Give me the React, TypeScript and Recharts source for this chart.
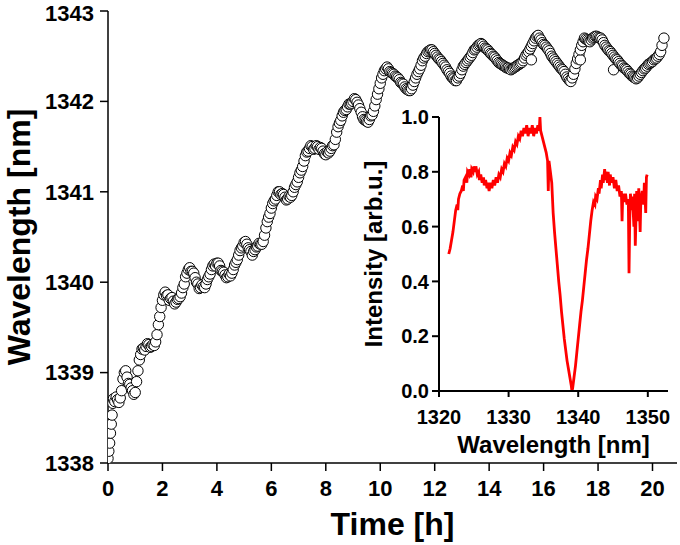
import { ScatterChart, Scatter, LineChart, Line, XAxis, YAxis, CartesianGrid, Label } from 'recharts';

// drift of the resonance wavelength over time: [time h, wavelength nm]
const driftPoints: [number, number][] = [
  [0.0, 1338.05], [0.03, 1338.13], [0.06, 1338.22], [0.09, 1338.33], [0.12, 1338.43], [0.15, 1338.53],
  [0.18, 1338.66], [0.2, 1338.71], [0.3, 1338.73], [0.4, 1338.67], [0.5, 1338.8], [0.6, 1339.0],
  [0.7, 1338.95], [0.8, 1338.87], [0.9, 1338.8], [1.0, 1338.78], [1.1, 1339.02], [1.2, 1339.2],
  [1.3, 1339.27], [1.4, 1339.29], [1.5, 1339.31], [1.6, 1339.29], [1.7, 1339.3], [1.8, 1339.42],
  [1.9, 1339.62], [2.0, 1339.8], [2.1, 1339.89], [2.2, 1339.86], [2.3, 1339.82], [2.4, 1339.79],
  [2.5, 1339.78], [2.6, 1339.82], [2.7, 1339.88], [2.8, 1339.98], [2.9, 1340.1], [3.0, 1340.16],
  [3.1, 1340.12], [3.2, 1340.05], [3.3, 1339.98], [3.4, 1339.94], [3.5, 1339.95], [3.6, 1339.98],
  [3.7, 1340.06], [3.8, 1340.14], [3.9, 1340.2], [4.0, 1340.21], [4.1, 1340.18], [4.2, 1340.12],
  [4.3, 1340.08], [4.4, 1340.06], [4.5, 1340.07], [4.6, 1340.14], [4.7, 1340.22], [4.8, 1340.3],
  [4.9, 1340.38], [5.0, 1340.44], [5.1, 1340.42], [5.2, 1340.36], [5.3, 1340.3], [5.4, 1340.36],
  [5.5, 1340.4], [5.6, 1340.42], [5.7, 1340.45], [5.8, 1340.6], [5.9, 1340.72], [6.0, 1340.82],
  [6.1, 1340.9], [6.2, 1340.96], [6.3, 1341.0], [6.4, 1340.98], [6.5, 1340.94], [6.6, 1340.92],
  [6.7, 1340.94], [6.8, 1341.0], [6.9, 1341.08], [7.0, 1341.16], [7.1, 1341.24], [7.2, 1341.34],
  [7.3, 1341.44], [7.4, 1341.48], [7.5, 1341.5], [7.6, 1341.48], [7.7, 1341.5], [7.8, 1341.49],
  [7.9, 1341.45], [8.0, 1341.41], [8.1, 1341.43], [8.2, 1341.48], [8.3, 1341.52], [8.4, 1341.66],
  [8.5, 1341.76], [8.6, 1341.84], [8.7, 1341.9], [8.8, 1341.94], [8.9, 1341.97], [9.0, 1342.0],
  [9.1, 1342.02], [9.2, 1341.96], [9.3, 1341.88], [9.4, 1341.8], [9.5, 1341.78], [9.6, 1341.8],
  [9.7, 1341.85], [9.8, 1341.95], [9.9, 1342.08], [10.0, 1342.2], [10.1, 1342.3], [10.2, 1342.36],
  [10.3, 1342.36], [10.4, 1342.32], [10.5, 1342.3], [10.6, 1342.27], [10.7, 1342.24], [10.8, 1342.2],
  [10.9, 1342.16], [11.0, 1342.13], [11.1, 1342.12], [11.2, 1342.18], [11.3, 1342.26], [11.4, 1342.33],
  [11.5, 1342.4], [11.6, 1342.48], [11.7, 1342.53], [11.8, 1342.56], [11.9, 1342.57], [12.0, 1342.53],
  [12.1, 1342.49], [12.2, 1342.46], [12.3, 1342.42], [12.4, 1342.38], [12.5, 1342.33], [12.6, 1342.28],
  [12.7, 1342.25], [12.8, 1342.23], [12.9, 1342.28], [13.0, 1342.35], [13.1, 1342.41], [13.2, 1342.45],
  [13.3, 1342.49], [13.4, 1342.54], [13.5, 1342.58], [13.6, 1342.62], [13.7, 1342.64], [13.8, 1342.61],
  [13.9, 1342.58], [14.0, 1342.55], [14.1, 1342.52], [14.2, 1342.49], [14.3, 1342.45], [14.4, 1342.42],
  [14.5, 1342.4], [14.6, 1342.38], [14.7, 1342.37], [14.8, 1342.35], [14.9, 1342.37], [15.0, 1342.39],
  [15.1, 1342.41], [15.2, 1342.43], [15.3, 1342.48], [15.4, 1342.53], [15.5, 1342.58], [15.55, 1342.46],
  [15.6, 1342.64], [15.7, 1342.7], [15.8, 1342.73], [15.9, 1342.68], [16.0, 1342.63], [16.1, 1342.6],
  [16.2, 1342.56], [16.3, 1342.5], [16.4, 1342.46], [16.5, 1342.42], [16.6, 1342.38], [16.7, 1342.35],
  [16.8, 1342.3], [16.9, 1342.25], [17.0, 1342.22], [17.1, 1342.3], [17.2, 1342.42], [17.3, 1342.52],
  [17.35, 1342.46], [17.4, 1342.62], [17.5, 1342.7], [17.6, 1342.68], [17.7, 1342.66], [17.8, 1342.7],
  [17.9, 1342.72], [18.0, 1342.71], [18.1, 1342.7], [18.2, 1342.65], [18.3, 1342.6], [18.4, 1342.56],
  [18.5, 1342.53], [18.57, 1342.35], [18.6, 1342.49], [18.7, 1342.46], [18.8, 1342.42], [18.9, 1342.39],
  [19.0, 1342.36], [19.1, 1342.33], [19.2, 1342.3], [19.3, 1342.27], [19.4, 1342.25], [19.5, 1342.28],
  [19.6, 1342.32], [19.7, 1342.36], [19.8, 1342.39], [19.9, 1342.42], [20.0, 1342.44], [20.1, 1342.47],
  [20.2, 1342.5], [20.3, 1342.55], [20.35, 1342.62], [20.42, 1342.7],
];

// readings in between, taken from the spread of the band
const driftPointsMid: [number, number][] = [
  [0.25, 1338.68], [0.35, 1338.7], [0.45, 1338.72], [0.55, 1338.93], [0.65, 1339.02], [0.75, 1338.88],
  [0.85, 1338.83], [0.95, 1338.76], [1.05, 1338.9], [1.15, 1339.14], [1.25, 1339.26], [1.35, 1339.25],
  [1.45, 1339.32], [1.55, 1339.28], [1.65, 1339.31], [1.75, 1339.34], [1.85, 1339.53], [1.95, 1339.72],
  [2.05, 1339.86], [2.15, 1339.85], [2.25, 1339.8], [2.35, 1339.83], [2.45, 1339.76], [2.55, 1339.81],
  [2.65, 1339.84], [2.75, 1339.94], [2.85, 1340.06], [2.95, 1340.14], [3.05, 1340.12], [3.15, 1340.1],
  [3.25, 1340.0], [3.35, 1339.93], [3.45, 1339.97], [3.55, 1339.94], [3.65, 1340.03], [3.75, 1340.09],
  [3.85, 1340.18], [3.95, 1340.18], [4.05, 1340.21], [4.15, 1340.13], [4.25, 1340.11], [4.35, 1340.05],
  [4.45, 1340.09], [4.55, 1340.1], [4.65, 1340.19], [4.75, 1340.25], [4.85, 1340.35], [4.95, 1340.4],
  [5.05, 1340.45], [5.15, 1340.38], [5.25, 1340.34], [5.35, 1340.34], [5.45, 1340.39], [5.55, 1340.43],
  [5.65, 1340.42], [5.75, 1340.52], [5.85, 1340.67], [5.95, 1340.76], [6.05, 1340.87], [6.15, 1340.92],
  [6.25, 1341.0], [6.35, 1340.97], [6.45, 1340.97], [6.55, 1340.91], [6.65, 1340.95], [6.75, 1340.96],
  [6.85, 1341.05], [6.95, 1341.11], [7.05, 1341.21], [7.15, 1341.28], [7.25, 1341.4], [7.35, 1341.45],
  [7.45, 1341.51], [7.55, 1341.47], [7.65, 1341.51], [7.75, 1341.47], [7.85, 1341.48], [7.95, 1341.42],
  [8.05, 1341.44], [8.15, 1341.45], [8.25, 1341.51], [8.35, 1341.58], [8.45, 1341.72], [8.55, 1341.79],
  [8.65, 1341.88], [8.75, 1341.91], [8.85, 1341.97], [8.95, 1341.98], [9.05, 1342.03], [9.15, 1341.99],
  [9.25, 1341.92], [9.35, 1341.83], [9.45, 1341.79], [9.55, 1341.77], [9.65, 1341.84], [9.75, 1341.89],
  [9.85, 1342.02], [9.95, 1342.14], [10.05, 1342.26], [10.15, 1342.34], [10.25, 1342.38], [10.35, 1342.33],
  [10.45, 1342.31], [10.55, 1342.28], [10.65, 1342.26], [10.75, 1342.21], [10.85, 1342.19], [10.95, 1342.14],
  [11.05, 1342.12], [11.15, 1342.14], [11.25, 1342.22], [11.35, 1342.3], [11.45, 1342.36], [11.55, 1342.45],
  [11.65, 1342.5], [11.75, 1342.55], [11.85, 1342.57], [11.95, 1342.55], [12.05, 1342.51], [12.15, 1342.47],
  [12.25, 1342.44], [12.35, 1342.4], [12.45, 1342.35], [12.55, 1342.31], [12.65, 1342.26], [12.75, 1342.23],
  [12.85, 1342.26], [12.95, 1342.31], [13.05, 1342.39], [13.15, 1342.43], [13.25, 1342.47], [13.35, 1342.51],
  [13.45, 1342.57], [13.55, 1342.6], [13.65, 1342.63], [13.75, 1342.63], [13.85, 1342.59], [13.95, 1342.57],
  [14.05, 1342.53], [14.15, 1342.5], [14.25, 1342.47], [14.35, 1342.43], [14.45, 1342.41], [14.55, 1342.39],
  [14.65, 1342.37], [14.75, 1342.36], [14.85, 1342.36], [14.95, 1342.38], [15.05, 1342.4], [15.15, 1342.42],
  [15.25, 1342.45], [15.35, 1342.51], [15.45, 1342.55], [15.55, 1342.61], [15.65, 1342.67], [15.75, 1342.72],
  [15.85, 1342.7], [15.95, 1342.65], [16.05, 1342.62], [16.15, 1342.58], [16.25, 1342.53], [16.35, 1342.48],
  [16.45, 1342.44], [16.55, 1342.4], [16.65, 1342.36], [16.75, 1342.33], [16.85, 1342.27], [16.95, 1342.23],
  [17.05, 1342.26], [17.15, 1342.36], [17.25, 1342.47], [17.35, 1342.57], [17.45, 1342.66], [17.55, 1342.69],
  [17.65, 1342.67], [17.75, 1342.68], [17.85, 1342.71], [17.95, 1342.72], [18.05, 1342.7], [18.15, 1342.68],
  [18.25, 1342.62], [18.35, 1342.58], [18.45, 1342.55], [18.55, 1342.51], [18.65, 1342.47], [18.75, 1342.44],
  [18.85, 1342.4], [18.95, 1342.37], [19.05, 1342.35], [19.15, 1342.31], [19.25, 1342.28], [19.35, 1342.26],
  [19.45, 1342.26], [19.55, 1342.3], [19.65, 1342.34], [19.75, 1342.37], [19.85, 1342.41], [19.95, 1342.43],
  [20.05, 1342.46], [20.15, 1342.48], [20.25, 1342.52],
];

// transmission spectrum for the inset: [wavelength nm, intensity]
const spectrumPoints: [number, number][] = [
  [1321.4, 0.5], [1321.6, 0.52], [1321.8, 0.55], [1322.0, 0.58], [1322.2, 0.62], [1322.4, 0.66],
  [1322.6, 0.68], [1322.7, 0.66], [1322.8, 0.7], [1323.0, 0.72], [1323.2, 0.73], [1323.4, 0.75],
  [1323.5, 0.73], [1323.6, 0.77], [1323.8, 0.78], [1324.0, 0.76], [1324.1, 0.8], [1324.3, 0.79],
  [1324.4, 0.81], [1324.6, 0.78], [1324.7, 0.81], [1324.9, 0.8], [1325.0, 0.82], [1325.2, 0.8],
  [1325.3, 0.82], [1325.5, 0.79], [1325.7, 0.8], [1325.8, 0.77], [1326.0, 0.79], [1326.2, 0.76],
  [1326.4, 0.78], [1326.5, 0.75], [1326.7, 0.77], [1326.9, 0.74], [1327.0, 0.76], [1327.2, 0.73],
  [1327.4, 0.76], [1327.6, 0.74], [1327.8, 0.77], [1328.0, 0.75], [1328.2, 0.78], [1328.4, 0.76],
  [1328.6, 0.79], [1328.8, 0.78], [1329.0, 0.81], [1329.2, 0.8], [1329.4, 0.83], [1329.6, 0.82],
  [1329.8, 0.85], [1330.0, 0.84], [1330.2, 0.87], [1330.4, 0.86], [1330.6, 0.89], [1330.8, 0.88],
  [1331.0, 0.91], [1331.2, 0.9], [1331.4, 0.93], [1331.6, 0.92], [1331.8, 0.95], [1332.0, 0.93],
  [1332.2, 0.96], [1332.4, 0.94], [1332.6, 0.97], [1332.8, 0.93], [1333.0, 0.96], [1333.2, 0.94],
  [1333.4, 0.97], [1333.6, 0.93], [1333.8, 0.96], [1334.0, 0.94], [1334.2, 0.97], [1334.4, 0.95],
  [1334.5, 1.0], [1334.6, 0.95], [1334.8, 0.93], [1335.0, 0.91], [1335.2, 0.89], [1335.4, 0.87],
  [1335.6, 0.84], [1335.7, 0.73], [1335.8, 0.84], [1336.0, 0.8], [1336.2, 0.76], [1336.4, 0.65],
  [1336.6, 0.58], [1336.8, 0.52], [1337.0, 0.46], [1337.2, 0.4], [1337.4, 0.35], [1337.6, 0.29],
  [1337.8, 0.24], [1338.0, 0.19], [1338.2, 0.15], [1338.4, 0.11], [1338.6, 0.08], [1338.8, 0.05],
  [1339.0, 0.02], [1339.1, 0.0], [1339.2, 0.01], [1339.4, 0.05], [1339.6, 0.09], [1339.8, 0.14],
  [1340.0, 0.19], [1340.2, 0.24], [1340.4, 0.29], [1340.6, 0.33], [1340.8, 0.38], [1341.0, 0.43],
  [1341.2, 0.48], [1341.4, 0.52], [1341.6, 0.57], [1341.8, 0.62], [1342.0, 0.66], [1342.2, 0.69],
  [1342.4, 0.68], [1342.5, 0.71], [1342.7, 0.7], [1342.9, 0.74], [1343.0, 0.72], [1343.2, 0.77],
  [1343.3, 0.74], [1343.5, 0.79], [1343.6, 0.76], [1343.8, 0.81], [1343.9, 0.77], [1344.0, 0.8],
  [1344.2, 0.76], [1344.3, 0.8], [1344.5, 0.75], [1344.6, 0.79], [1344.8, 0.76], [1345.0, 0.78],
  [1345.2, 0.74], [1345.4, 0.77], [1345.6, 0.73], [1345.8, 0.75], [1346.0, 0.71], [1346.2, 0.73],
  [1346.3, 0.62], [1346.4, 0.72], [1346.6, 0.69], [1346.8, 0.72], [1347.0, 0.68], [1347.2, 0.7],
  [1347.3, 0.43], [1347.4, 0.62], [1347.5, 0.72], [1347.7, 0.66], [1347.8, 0.71], [1348.0, 0.6],
  [1348.1, 0.72], [1348.2, 0.53], [1348.4, 0.73], [1348.5, 0.62], [1348.7, 0.74], [1348.9, 0.58],
  [1349.0, 0.7], [1349.2, 0.73], [1349.4, 0.68], [1349.5, 0.76], [1349.7, 0.65], [1349.8, 0.78],
  [1349.9, 0.79],
];

const timeTicks = [0, 2, 4, 6, 8, 10, 12, 14, 16, 18, 20];
const wavelengthTicks = [1338, 1339, 1340, 1341, 1342, 1343];
const spectrumTicks = [1320, 1330, 1340, 1350];
const intensityTicks = [0, 0.2, 0.4, 0.6, 0.8, 1.0];

const FONT = '"Liberation Sans", Arial, Helvetica, sans-serif';

const driftData = [...driftPoints, ...driftPointsMid]
  .sort((a, b) => a[0] - b[0])
  .map(([t, v]) => ({ t, v }));
const spectrumData = spectrumPoints.map(([w, i]) => ({ w, i }));

const OpenCircle = (props: any) => (
  <circle cx={props.cx} cy={props.cy} r={5.2} fill="#fff" stroke="#000" strokeWidth={1} />
);

// axis titles drawn relative to the axis box
const titleBelow = (text: string, size: number, offset: number) => (props: any) => {
  const vb = props.viewBox;
  return (
    <text x={vb.x + vb.width / 2} y={vb.y + offset} textAnchor="middle" fontFamily={FONT}
      fontWeight={700} fontSize={size} fill="#000">{text}</text>
  );
};

const titleLeft = (text: string, size: number, baseX: number) => (props: any) => {
  const vb = props.viewBox;
  const x = vb.x + baseX;
  const y = vb.y + vb.height / 2;
  return (
    <text x={x} y={y} textAnchor="middle" transform={`rotate(-90, ${x}, ${y})`} fontFamily={FONT}
      fontWeight={700} fontSize={size} fill="#000">{text}</text>
  );
};

function Inset() {
  const tick = { fill: '#000', fontSize: 20, fontWeight: 700, fontFamily: FONT };
  const line = { stroke: '#000', strokeWidth: 2 };
  return (
    <LineChart width={325} height={360} data={spectrumData} margin={{ top: 17, right: 7, bottom: 0, left: 0 }}>
      <CartesianGrid horizontal={false} vertical={false} fill="#fff" />
      <XAxis dataKey="w" type="number" domain={[1320, 1352.9]} ticks={spectrumTicks} allowDataOverflow
        height={69} tick={tick} tickSize={6} tickMargin={13} axisLine={line} tickLine={line}>
        <Label content={titleBelow('Wavelength [nm]', 24, 62)} />
      </XAxis>
      <YAxis dataKey="i" type="number" domain={[0, 1]} ticks={intensityTicks} allowDataOverflow
        width={89} tick={tick} tickSize={7} tickMargin={3} axisLine={line} tickLine={line}
        tickFormatter={(v: number) => v.toFixed(1)}>
        <Label content={titleLeft('Intensity [arb.u.]', 24, 32)} />
      </YAxis>
      <XAxis xAxisId="top" orientation="top" type="number" domain={[1320, 1352.9]} height={0}
        tick={false} tickLine={false} axisLine={line} />
      <YAxis yAxisId="right" orientation="right" type="number" domain={[0, 1]} width={0}
        tick={false} tickLine={false} axisLine={line} />
      <Line type="linear" dataKey="i" stroke="#ff0000" strokeWidth={2.8} dot={false} isAnimationActive={false} />
    </LineChart>
  );
}

export default function App() {
  const tick = { fill: '#000', fontSize: 22, fontWeight: 700, fontFamily: FONT };
  const line = { stroke: '#000', strokeWidth: 1.5 };
  return (
    <div style={{ position: 'absolute', left: 0, top: 0, width: 680, height: 545, background: '#fff' }}>
      <ScatterChart width={680} height={545} margin={{ top: 11, right: 3, bottom: 0, left: 0 }}>
        <XAxis dataKey="t" type="number" domain={[0, 20.9]} ticks={timeTicks} allowDataOverflow
          height={82} tick={tick} tickSize={8} tickMargin={9} axisLine={line} tickLine={line}>
          <Label content={titleBelow('Time [h]', 32, 72)} />
        </XAxis>
        <YAxis dataKey="v" type="number" domain={[1338, 1343]} ticks={wavelengthTicks} allowDataOverflow
          width={108} tick={tick} tickSize={8} tickMargin={6} axisLine={line} tickLine={line}>
          <Label content={titleLeft('Wavelength [nm]', 32, 30)} />
        </YAxis>
        <XAxis xAxisId="top" orientation="top" type="number" domain={[0, 20.9]} height={0}
          tick={false} tickLine={false} axisLine={line} />
        <YAxis yAxisId="right" orientation="right" type="number" domain={[1338, 1343]} width={0}
          tick={false} tickLine={false} axisLine={line} />
        <Scatter data={driftData} shape={OpenCircle} isAnimationActive={false} />
      </ScatterChart>
      <div style={{ position: 'absolute', left: 350, top: 100 }}>
        <Inset />
      </div>
    </div>
  );
}
